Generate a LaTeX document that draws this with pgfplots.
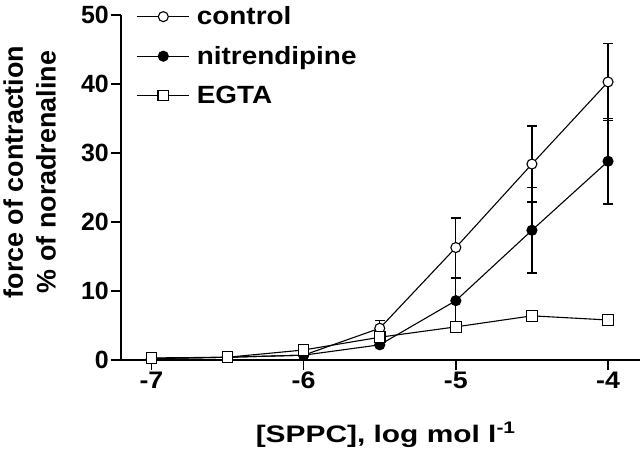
\documentclass[border=0pt]{standalone}
\usepackage{fontspec}
\setmainfont{Liberation Sans}
\newfontfamily\wideA{Liberation Sans}[FakeStretch=1.12]
\newfontfamily\wideB{Liberation Sans}[FakeStretch=1.25]
\usepackage{pgfplots}
\pgfplotsset{compat=1.18}
\begin{document}
\begin{tikzpicture}
\useasboundingbox (-121bp,-101bp) rectangle (519bp,360bp);
\begin{axis}[
  at={(0,0)}, anchor=south west,
  scale only axis, width=519bp, height=345bp,
  xmin=-7.2, xmax=-3.79, ymin=0, ymax=50,
  clip=false,
  axis x line*=bottom, axis y line*=left,
  axis line style={line width=1.8bp, -},
  xtick={-7,-6,-5,-4}, xticklabels={-7,-6,-5,-4},
  ytick={0,10,20,30,40,50}, yticklabels={0,10,20,30,40,50},
  tick align=outside, major tick length=10bp,
  tick style={line width=1.4bp, black},
  yticklabel style={font=\bfseries\fontsize{25}{28}\selectfont, inner sep=2bp},
  xticklabel style={font=\wideA\bfseries\fontsize{24}{28}\selectfont, inner sep=2bp},
  xlabel={[SPPC], log mol l\textsuperscript{-1}},
  xlabel style={at={(axis description cs:0.51,0)}, anchor=base, yshift=-82bp,
    font=\wideB\bfseries\fontsize{24}{28}\selectfont},
  ylabel={force of contraction\\\% of noradrenaline},
  ylabel style={at={(axis description cs:-0.176,0.545)}, anchor=center, align=center,
    font=\bfseries\fontsize{27}{33}\selectfont},
  legend style={draw=none, fill=none, inner sep=0pt,
    at={(axis description cs:0.03,1.027)}, anchor=north west,
    font=\wideA\bfseries\fontsize{25}{28}\selectfont, row sep=18bp,
    nodes={inner sep=1bp},
    /tikz/every odd column/.append style={column sep=6bp}},
  legend cell align=left,
  legend image code/.code={\draw[mark repeat=2,mark phase=2,#1] plot coordinates {(0bp,0bp) (26bp,0bp) (52bp,0bp)};},
]
\addplot[black, line width=1.1bp, mark=*, mark size=5bp,
  mark options={fill=white, line width=1.1bp},
  error bars/.cd, y dir=both, y explicit,
  error bar style={line width=1.3bp},
  error mark options={rotate=90, mark size=5bp, line width=1.3bp}]
coordinates {
(-7,0.2) +- (0,0)
(-6.5,0.4) +- (0,0)
(-6,0.7) +- (0,0)
(-5.5,4.6) +- (0,1.1)
(-5,16.3) +- (0,4.3)
(-4.5,28.4) +- (0,5.5)
(-4,40.3) +- (0,5.6)
};
\addlegendentry{control}
\addplot[black, line width=1.1bp, mark=*, mark size=5bp,
  mark options={fill=black, line width=1.1bp},
  error bars/.cd, y dir=both, y explicit,
  error bar style={line width=1.3bp},
  error mark options={rotate=90, mark size=5bp, line width=1.3bp}]
coordinates {
(-7,0.2) +- (0,0)
(-6.5,0.4) +- (0,0)
(-6,0.7) +- (0,0)
(-5.5,2.2) +- (0,0)
(-5,8.6) +- (0,3.3)
(-4.5,18.8) +- (0,6.2)
(-4,28.8) +- (0,6.2)
};
\addlegendentry{nitrendipine}
\addplot[black, line width=1.1bp, mark=square*, mark size=5.3bp,
  mark options={fill=white, line width=1.1bp}]
coordinates {
(-7,0.3)
(-6.5,0.4)
(-6,1.45)
(-5.5,3.3)
(-5,4.8)
(-4.5,6.4)
(-4,5.8)
};
\addlegendentry{EGTA}
\end{axis}
\end{tikzpicture}
\end{document}
